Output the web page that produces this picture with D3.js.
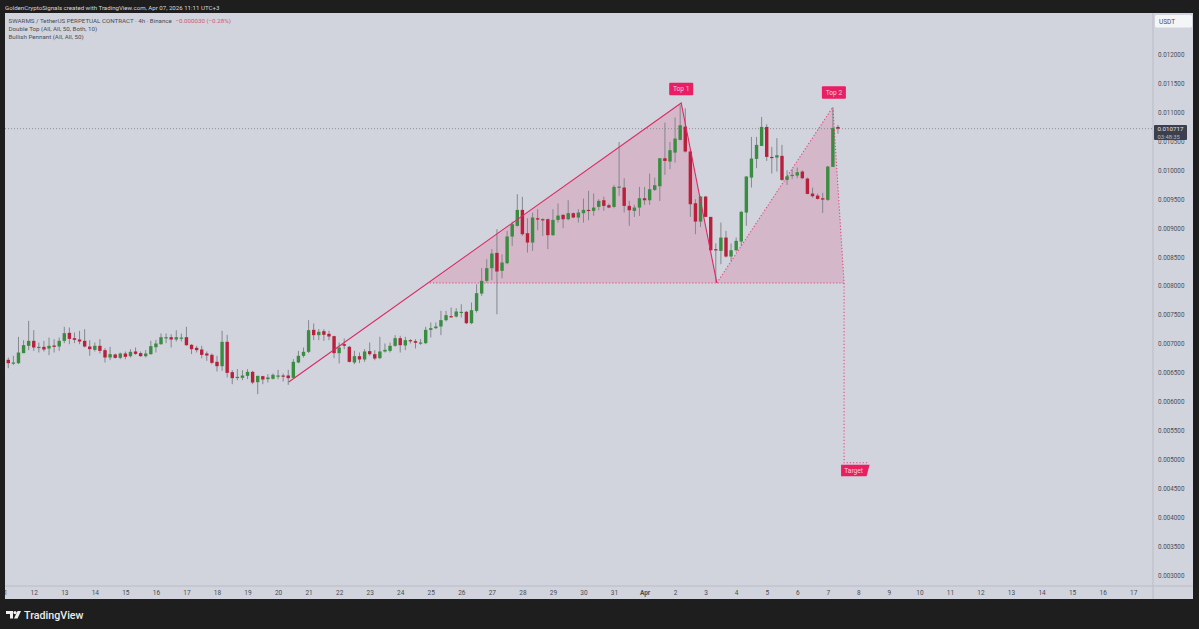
<!DOCTYPE html>
<html>
<head>
<meta charset="utf-8">
<script src="https://cdn.jsdelivr.net/npm/d3@7"></script>
<style>
html, body { margin: 0; padding: 0; background: #1e1e1e; overflow: hidden; }
svg { display: block; }
text { font-family: Roboto, sans-serif; }
</style>
</head>
<body>
<svg id="canvas" width="1199" height="629"></svg>
<script>
// 4h candles, prices in millionths of USDT
let opens = [6724,6660,6666,6839,6966,7052,6937,6948,6919,6971,6954,7052,7190,7098,7075,7052,6954,6896,6966,6891,6764,6816,6758,6833,6787,6868,6839,6787,6822,6942,6994,7109,7115,7075,7104,7115,6983,6931,6902,6833,6810,6689,6614,7035,6511,6419,6413,6447,6516,6338,6442,6390,6396,6447,6453,6453,6413,
  6678,6793,6862,7242,7150,7219,7173,7133,6839,6995,6949,6678,6787,6730,6874,6822,6753,6868,6879,6966,7098,6972,7064,7046,7012,7012,7242,7271,7300,7409,7478,7472,7547,7553,7357,
  7570,7869,8088,8307,8571,8261,8393,8854,9038,9314,8911,8750,9170,9153,9153,8877,9141,9228,9153,9257,9182,9257,9314,9297,9366,9481,9395,9366,9711,9700,9383,9297,
  9354,9515,9481,9659,9723,10206,10149,10304,10523,10753,10322,9429,9112,9544,9193,8635,8606,8836,8508,8617,8767,9268,9872,10195,10419,10747,10229,10218,10247,9832,9907,9907,9976,9855,9596,9561,9515,9487,10057,10747]
let highs = [6764,6793,7121,7063,7397,7236,7023,7052,7109,7081,7109,7294,7282,7196,7225,7253,7063,7023,7081,6925,6948,6833,6850,6868,6908,6937,6868,6891,7052,7069,7179,7179,7167,7236,7179,7294,6994,6966,6966,6868,6833,6793,7225,7155,6545,6563,6545,6563,6534,6447,6447,6476,6488,6551,6488,6551,6735,
  6879,6937,7409,7351,7254,7254,7225,7139,7023,7092,6966,6879,6851,6908,7023,6891,7121,7006,7023,7150,7139,7121,7081,7081,7081,7294,7369,7369,7570,7570,7628,7616,7685,7570,7714,
  8030,8307,8462,8635,8980,8548,8951,9113,9585,9539,9170,9268,9326,9170,9165,9326,9424,9239,9481,9268,9326,9510,9642,9596,9498,9544,9424,9746,10487,9860,9470,9401,
  9711,9711,9942,9872,10206,10822,10488,10909,11127,11070,10362,9498,9556,9556,9193,8738,9095,8951,8733,8836,9297,9901,10575,10575,10920,10794,10402,10552,10437,9999,10016,10045,9999,9872,9700,9596,9608,10074,11070,10782]
let lows = [6580,6637,6649,6839,6891,6879,6850,6868,6804,6850,6879,7012,6994,7012,6994,6937,6793,6868,6833,6678,6718,6747,6735,6735,6764,6810,6776,6764,6810,6850,6983,7012,6937,7040,7040,6966,6822,6850,6752,6706,6649,6522,6534,6419,6303,6372,6372,6390,6303,6131,6303,6332,6384,6390,6350,6292,6401,
  6666,6764,6839,7064,7064,7052,7064,6753,6661,6908,6678,6649,6666,6689,6793,6718,6736,6851,6851,6949,6851,6891,7006,6920,6983,6995,7110,7254,7150,7386,7455,7455,7455,7340,7340,
  7541,7829,8059,8099,7512,8134,8376,8692,9026,8865,8577,8606,8963,8865,8635,8865,9095,8998,9136,9170,9095,9095,9136,9211,9308,9297,9343,9343,9556,9268,9038,9193,
  9210,9400,9400,9642,9469,9919,10016,10131,10517,10304,9193,8894,9020,9193,8606,8059,8376,8491,8433,8594,8692,9038,9700,10034,10419,10160,9942,9976,9815,9746,9844,9861,9844,9584,9527,9492,9262,9469,10057,10632]
let closes = [6666,6678,6850,6977,7052,6937,6948,6902,6966,6948,7052,7184,7086,7069,7040,6954,6908,6966,6879,6764,6822,6758,6833,6776,6862,6827,6787,6833,6960,7006,7115,7115,7075,7115,7109,6977,6908,6891,6810,6799,6672,6614,7035,6499,6407,6430,6453,6516,6332,6447,6384,6419,6465,6453,6442,6407,6689,
  6793,6862,7236,7150,7208,7156,7127,6839,6937,6966,6689,6787,6730,6868,6822,6747,6868,6897,6966,7098,6977,7064,7046,7018,7023,7242,7271,7300,7409,7495,7472,7559,7553,7357,7582,
  7875,8088,8307,8560,8249,8405,8854,9067,9314,8894,8750,9182,9147,9147,8877,9141,9216,9153,9257,9182,9268,9314,9308,9354,9470,9383,9354,9711,9717,9383,9308,9354,
  9515,9481,9671,9740,10206,10160,10345,10546,10776,10322,9412,9112,9544,9193,8617,8617,8836,8508,8617,8779,9280,9890,10201,10437,10747,10229,10218,10258,9832,9895,9919,9965,9861,9590,9550,9504,9492,10062,10730,10717]

let priceTicks = [12000,11500,11000,10500,10000,9500,9000,8500,8000,7500,7000,6500,6000,5500,5000,4500,4000,3500,3000]
let dayLabels = ['11','12','13','14','15','16','17','18','19','20','21','22','23','24','25','26','27','28','29','30','31','Apr','2','3','4','5','6','7','8','9','10','11','12','13','14','15','16','17']

// double top pattern, [bar, price]
let risePoints = [[55.1,6342],[132.2,11161],[139.2,8052]]
let dottedPoints = [[139.2,8052],[162,11092],[164.2,8052],[164.2,4945],[169.1,4945]]
let shadePoints = [[82.8,8052],[132.2,11161],[139.2,8052],[162,11092],[164.2,8052]]
let neckline = [[82.8,8052],[164.2,8052]]
let lastPrice = 10717

let svg = d3.select('#canvas')
let left = 5, right = 1153, top_ = 13, bottom = 586

let x = d3.scaleLinear().domain([0, 220]).range([8.3, 8.3 + 5.09 * 220])
let y = d3.scaleLinear().domain([12000, 3000]).range([54.4, 575.4])

svg.append('rect').attr('x', left).attr('y', top_).attr('width', 1193 - left).attr('height', 599 - top_).attr('fill', '#d1d4dc')

let defs = svg.append('defs')
defs.append('clipPath').attr('id', 'plot').append('rect')
    .attr('x', left).attr('y', top_).attr('width', right - left).attr('height', bottom - top_)

let plot = svg.append('g').attr('clip-path', 'url(#plot)')
let line = d3.line().x(d => x(d[0])).y(d => y(d[1]))
let pink = '#e91e63'

plot.append('path').attr('d', line(shadePoints) + 'Z').attr('fill', pink).attr('fill-opacity', 0.16)

// last price line
plot.append('line').attr('x1', left).attr('x2', right).attr('y1', y(lastPrice)).attr('y2', y(lastPrice))
    .attr('stroke', '#7c7f88').attr('stroke-width', 0.8).attr('stroke-dasharray', '1 2')

let colour = i => closes[i] >= opens[i] ? '#3a8c40' : '#b8203c'
let bars = plot.selectAll('g.candle').data(d3.range(opens.length)).enter().append('g').attr('class', 'candle')
bars.append('line')
    .attr('x1', i => x(i)).attr('x2', i => x(i))
    .attr('y1', i => y(highs[i])).attr('y2', i => y(lows[i]))
    .attr('stroke', '#85878d').attr('stroke-width', 1)
bars.append('rect')
    .attr('x', i => x(i) - 1.7).attr('width', 3.4)
    .attr('y', i => y(Math.max(opens[i], closes[i])))
    .attr('height', i => Math.max(1.2, Math.abs(y(opens[i]) - y(closes[i]))))
    .attr('fill', colour)

plot.append('path').attr('d', line(risePoints)).attr('fill', 'none').attr('stroke', '#dc2a66').attr('stroke-width', 1.1)
plot.append('path').attr('d', line(dottedPoints)).attr('fill', 'none').attr('stroke', pink).attr('stroke-opacity', 0.75).attr('stroke-width', 1.1).attr('stroke-dasharray', '1.2 2')
plot.append('path').attr('d', line(neckline)).attr('fill', 'none').attr('stroke', pink).attr('stroke-opacity', 0.75).attr('stroke-width', 1.1).attr('stroke-dasharray', '1.2 2')

// pattern labels
let tags = [
  {text: 'Top 1', bar: 132.2, price: 11161, dy: -20},
  {text: 'Top 2', bar: 162.2, price: 11092, dy: -20.5}
]
tags.forEach(t => {
    let cx = x(t.bar), cy = y(t.price) + t.dy + 6
    plot.append('rect').attr('x', cx - 12).attr('y', cy - 6.3).attr('width', 24).attr('height', 12.6).attr('rx', 1).attr('fill', pink)
    plot.append('text').attr('x', cx).attr('y', cy + 2.3).attr('text-anchor', 'middle').attr('fill', '#f5d0dd').attr('font-size', 6.6).text(t.text)
})
let tx = x(164.2), ty = y(4945)
plot.append('path').attr('d', `M${tx + 3},${ty + 2}L${tx + 25.5},${ty + 2}L${tx + 22.5},${ty + 13.5}L${tx - 3},${ty + 13.5}L${tx - 3},${ty + 2}Z`).attr('fill', pink)
plot.append('text').attr('x', tx + 9.5).attr('y', ty + 10).attr('text-anchor', 'middle').attr('fill', '#f5d0dd').attr('font-size', 6.6).text('Target')

// axes
let yAxis = d3.axisRight(y).tickValues(priceTicks).tickSize(0).tickPadding(5).tickFormat(d => (d / 1e6).toFixed(6))
let yG = svg.append('g').attr('transform', `translate(${right},0)`).call(yAxis)
yG.select('.domain').remove()
yG.selectAll('text').attr('fill', '#4a4d57').attr('font-size', 6.3).attr('font-family', 'Roboto, sans-serif')

let dayTicks = dayLabels.map((d, i) => -1 + i * 6)
let xAxis = d3.axisBottom(x).tickValues(dayTicks).tickSize(0).tickPadding(4).tickFormat((d, i) => dayLabels[i])
let xG = svg.append('g').attr('transform', `translate(0,${bottom})`).call(xAxis)
xG.select('.domain').remove()
xG.selectAll('text').attr('fill', '#4a4d57').attr('font-size', 6.5).attr('font-family', 'Roboto, sans-serif')
xG.selectAll('text').filter(d => d === 125).attr('font-weight', 700)

svg.append('line').attr('x1', right).attr('x2', right).attr('y1', top_).attr('y2', 599).attr('stroke', '#b9bcc6')
svg.append('line').attr('x1', left).attr('x2', 1193).attr('y1', bottom).attr('y2', bottom).attr('stroke', '#b9bcc6')

// USDT box and last price tag
svg.append('rect').attr('x', 1155).attr('y', 15).attr('width', 37).attr('height', 12.5).attr('rx', 1.5).attr('fill', '#f4f5f7')
svg.append('text').attr('x', 1159).attr('y', 23.6).attr('fill', '#4a4d57').attr('font-size', 6.5).text('USDT')
svg.append('rect').attr('x', 1154).attr('y', 125).attr('width', 33).attr('height', 15).attr('rx', 1).attr('fill', '#3c404e')
svg.append('text').attr('x', 1157.5).attr('y', 131).attr('fill', '#e3e5ea').attr('font-size', 6.2).text('0.010717')
svg.append('text').attr('x', 1157.5).attr('y', 138.6).attr('fill', '#b8bbc4').attr('font-size', 5.8).text('03:48:35')

// dark frame covers the cut tick label on the left
svg.append('rect').attr('x', 0).attr('y', 0).attr('width', left).attr('height', 629).attr('fill', '#1e1e1e')

// header
svg.append('text').attr('x', 5).attr('y', 9.5).attr('fill', '#d8d8d8').attr('font-size', 6.13).text('GoldenCryptoSignals created with TradingView.com, Apr 07, 2026 11:11 UTC+3')
let head = svg.append('text').attr('x', 8.5).attr('y', 22.8).attr('fill', '#4a4d57').attr('font-size', 6.2)
head.append('tspan').text('SWARMS / TetherUS PERPETUAL CONTRACT · 4h · Binance ')
head.append('tspan').attr('dx', 2).attr('fill', '#d0586c').text('−0.000030 (−0.28%)')
svg.append('text').attr('x', 8.5).attr('y', 30.9).attr('fill', '#4a4d57').attr('font-size', 6.2).text('Double Top (All, All, 50, Both, 10)')
svg.append('text').attr('x', 8.5).attr('y', 39.2).attr('fill', '#4a4d57').attr('font-size', 6.2).text('Bullish Pennant (All, All, 50)')

// logo
let logo = svg.append('g').attr('fill', '#f0f0f0')
logo.append('path').attr('d', 'M6,611H13V618.5H10V614H6Z')
logo.append('circle').attr('cx', 15).attr('cy', 612.6).attr('r', 1.6)
logo.append('path').attr('d', 'M17.5,611H21L17.5,618.5H14Z')
svg.append('text').attr('x', 24).attr('y', 618.5).attr('fill', '#ececec').attr('font-size', 10.7).attr('font-weight', 500).text('TradingView')
</script>
</body>
</html>
